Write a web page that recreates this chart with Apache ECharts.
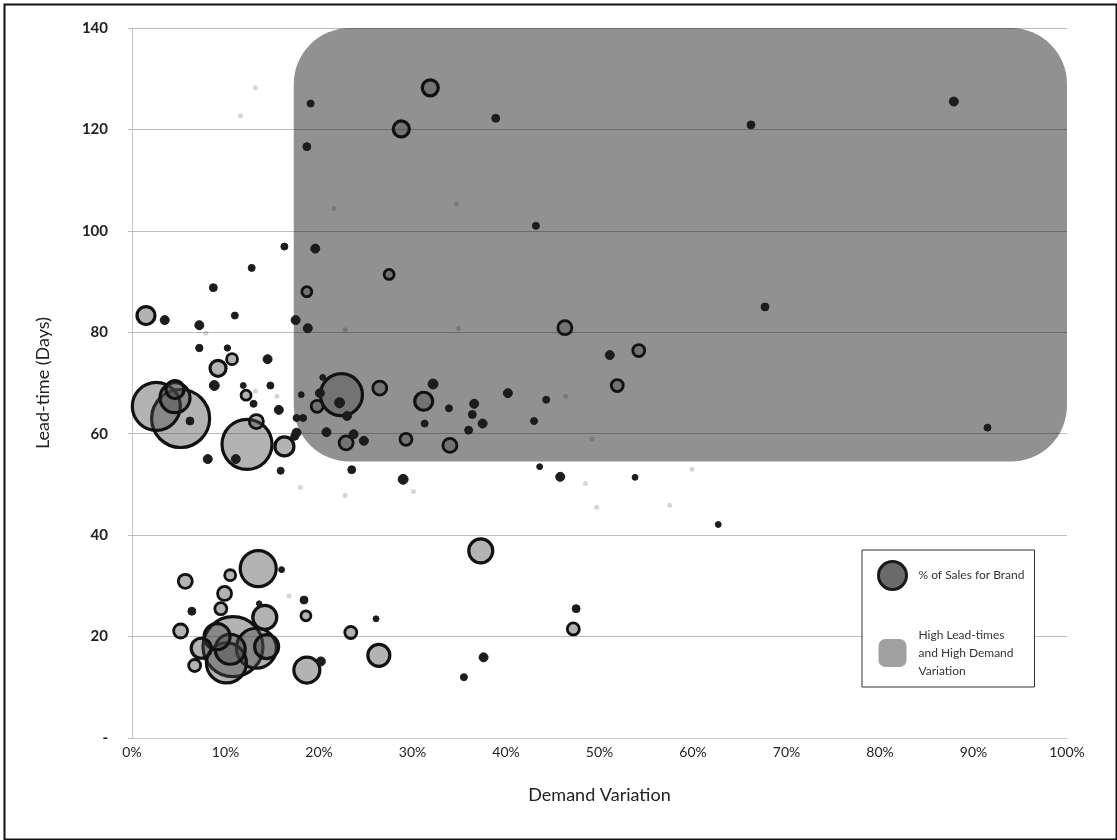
<!DOCTYPE html>
<html><head><meta charset="utf-8">
<script src="https://cdn.jsdelivr.net/npm/echarts@6/dist/echarts.min.js"></script>
<style>html,body{margin:0;padding:0;background:#fff}#c{width:1117px;height:840px}</style>
</head><body><div id="c"></div>
<script>
// Demand variation (%), lead-time (days), % of sales for brand
const demandVariation = [1.5,3.5,7.2,11.0,7.2,10.2,10.7,14.5,9.2,8.8,
 11.9,14.8,12.2,13.0,15.7,2.6,5.2,4.6,4.6,6.2,
 12.3,13.3,16.3,11.1,8.1,15.9,17.6,18.3,17.6,17.4,
 17.5,18.8,16.3,12.8,8.7,19.6,18.7,31.9,38.9,28.8,
 19.1,18.7,27.5,46.3,22.4,22.2,20.4,18.1,20.1,19.8,
 23.0,26.5,32.2,31.2,33.9,36.6,36.4,37.5,40.2,44.3,
 43.0,31.3,36.0,20.8,22.9,23.7,24.8,29.3,34.0,23.5,
 29.0,43.6,45.8,37.3,16.0,18.4,18.6,26.1,23.4,26.4,
 18.7,20.2,37.6,35.5,66.2,67.7,51.1,54.2,51.9,53.8,
 62.7,87.9,91.5,43.2,13.5,5.7,10.5,9.9,9.5,6.4,
 5.2,14.2,13.6,10.8,13.3,10.1,9.1,7.4,14.4,10.5,
 6.7,47.2,47.5];
const leadTime = [83.3,82.4,81.4,83.3,76.9,76.9,74.7,74.7,72.9,69.5,
 69.5,69.5,67.6,65.9,64.7,65.4,63.0,67.1,68.7,62.5,
 57.9,62.4,57.5,55.0,55.0,52.7,63.1,63.1,60.2,59.5,
 82.4,80.8,96.9,92.7,88.8,96.5,88.0,128.2,122.2,120.1,
 125.1,116.6,91.4,80.9,67.7,66.1,71.1,67.7,68.0,65.4,
 63.5,69.0,69.8,66.4,65.0,65.9,63.8,62.0,68.0,66.7,
 62.5,62.0,60.7,60.3,58.2,59.9,58.6,58.9,57.7,52.9,
 51.0,53.5,51.5,36.9,33.2,27.2,24.1,23.5,20.8,16.3,
 13.4,15.1,15.9,12.0,120.9,85.0,75.5,76.4,69.5,51.4,
 42.1,125.5,61.2,101,33.4,30.9,32.1,28.5,25.5,25.0,
 21.1,23.8,26.5,18.0,17.7,14.8,20.0,17.7,18.0,17.5,
 14.3,21.5,25.5];
const salesShare = [0.81,0.16,0.16,0.09,0.1,0.07,0.3,0.16,0.64,0.2,
 0.06,0.09,0.25,0.09,0.16,5.76,8.41,2.25,0.81,0.12,
 6.25,0.49,0.9,0.16,0.16,0.09,0.09,0.09,0.16,0.12,
 0.16,0.16,0.09,0.09,0.12,0.16,0.25,0.64,0.12,0.64,
 0.09,0.12,0.25,0.49,4.41,0.2,0.06,0.06,0.16,0.36,
 0.16,0.49,0.2,0.81,0.09,0.16,0.12,0.16,0.16,0.09,
 0.09,0.09,0.12,0.16,0.49,0.16,0.16,0.36,0.49,0.12,
 0.2,0.06,0.16,1.44,0.06,0.12,0.25,0.06,0.36,1.21,
 1.69,0.16,0.16,0.09,0.12,0.12,0.16,0.36,0.36,0.06,
 0.06,0.16,0.09,0.09,3.24,0.49,0.3,0.49,0.36,0.12,
 0.49,1.44,0.05,9.0,4.0,4.0,1.69,1.0,1.44,2.25,
 0.36,0.36,0.12];
// near-zero share products (faint marks)
const faintX = [13.2,11.6,21.6,34.7,22.8,34.9,46.4,18.0,22.8,30.1,49.2,48.5,49.7,57.5,59.9,7.9,13.2,15.5,16.8];
const faintY = [128.2,122.7,104.4,105.3,80.5,80.8,67.4,49.4,47.8,48.6,59.0,50.2,45.5,45.9,53.0,79.8,68.4,67.4,28.0];
// high lead-time & high demand variation zone: [xMin, yMin, xMax, yMax]
const highZone = [17.3, 54.5, 100, 140];

const FONT = 'Lato, "Open Sans", sans-serif';
const bubbleName = '% of Sales for Brand';
const zoneName = 'High Lead-times\nand High Demand\nVariation';

const pts = demandVariation.map((x, i) => [x, leadTime[i], salesShare[i]]);
pts.sort((a, b) => b[2] - a[2]);
const bubbleData = pts.map(p => {
  const s = Math.sqrt(p[2]) * 20;
  const small = s < 9;
  return {
    value: p, symbolSize: small ? s + 1 : s,
    itemStyle: small
      ? { color: '#1c1c1c', borderColor: '#1c1c1c', borderWidth: 1 }
      : { borderWidth: s < 16 ? 2.8 : 3.2 }
  };
});

const chart = echarts.init(document.getElementById('c'), null, { renderer: 'canvas' });
chart.setOption({
  backgroundColor: '#fff',
  animation: false,
  textStyle: { fontFamily: FONT },
  grid: { left: 132, right: 50, top: 28, bottom: 102 },
  xAxis: {
    type: 'value', min: 0, max: 100, interval: 10, z: 3,
    name: 'Demand Variation', nameLocation: 'middle', nameGap: 48,
    nameTextStyle: { fontSize: 18, color: '#222', fontFamily: FONT },
    axisLine: { show: true, lineStyle: { color: '#ccc', type: 'dotted' } },
    axisTick: { show: false },
    axisLabel: { formatter: v => v + '%', fontSize: 14, color: '#222', margin: 7, fontFamily: FONT },
    splitLine: { show: false }
  },
  yAxis: {
    type: 'value', min: 0, max: 140, interval: 20, z: 3,
    name: 'Lead-time (Days)', nameLocation: 'middle', nameGap: 80, nameRotate: 90,
    nameTextStyle: { fontSize: 18, color: '#222', fontFamily: FONT },
    axisLine: { show: true, lineStyle: { color: '#bbb', type: 'dotted' } },
    axisTick: { show: true, length: 4, lineStyle: { color: '#bbb' } },
    axisLabel: { formatter: v => v === 0 ? '-' : String(v), fontSize: 15, color: '#222', margin: 24, fontFamily: FONT, fontWeight: 'bold' },
    splitLine: { show: true, lineStyle: { color: 'rgba(0,0,0,0.26)', width: 1.2 } }
  },
  legend: {
    orient: 'vertical', left: 862, top: 550,
    padding: [10, 10, 7, 15], itemGap: 35, itemWidth: 28, itemHeight: 28,
    borderColor: '#333', borderWidth: 1, backgroundColor: '#fff',
    textStyle: { fontSize: 12, color: '#333', fontFamily: FONT, lineHeight: 18, padding: [0, 0, 0, 7] },
    data: [
      { name: bubbleName, icon: 'circle', itemStyle: { color: '#6a6a6a', borderColor: '#1a1a1a', borderWidth: 3, opacity: 1 } },
      { name: zoneName, icon: 'roundRect', itemStyle: { color: '#a0a0a0', borderWidth: 0 } }
    ]
  },
  graphic: [{
    type: 'rect', left: 2, top: 2, silent: true,
    shape: { width: 1112, height: 835 },
    style: { fill: 'none', stroke: '#111', lineWidth: 2 }
  }],
  series: [
    {
      name: zoneName, type: 'custom', z: 1,
      encode: { x: [0, 2], y: [1, 3] },
      data: [highZone],
      renderItem: (params, api) => {
        const p0 = api.coord([api.value(0), api.value(3)]);
        const p1 = api.coord([api.value(2), api.value(1)]);
        return {
          type: 'rect',
          shape: { x: p0[0], y: p0[1], width: p1[0] - p0[0], height: p1[1] - p0[1], r: 56 },
          style: { fill: '#919191' }
        };
      },
      itemStyle: { color: '#a0a0a0' }
    },
    {
      name: 'faint', type: 'scatter', z: 4, symbolSize: 5,
      itemStyle: { color: 'rgba(0,0,0,0.16)', opacity: 1 },
      data: faintX.map((x, i) => [x, faintY[i]])
    },
    {
      name: bubbleName, type: 'scatter', z: 5,
      itemStyle: { color: 'rgba(75,75,75,0.42)', borderColor: '#111', borderWidth: 2.8, opacity: 1 },
      data: bubbleData
    }
  ]
});
</script></body></html>
